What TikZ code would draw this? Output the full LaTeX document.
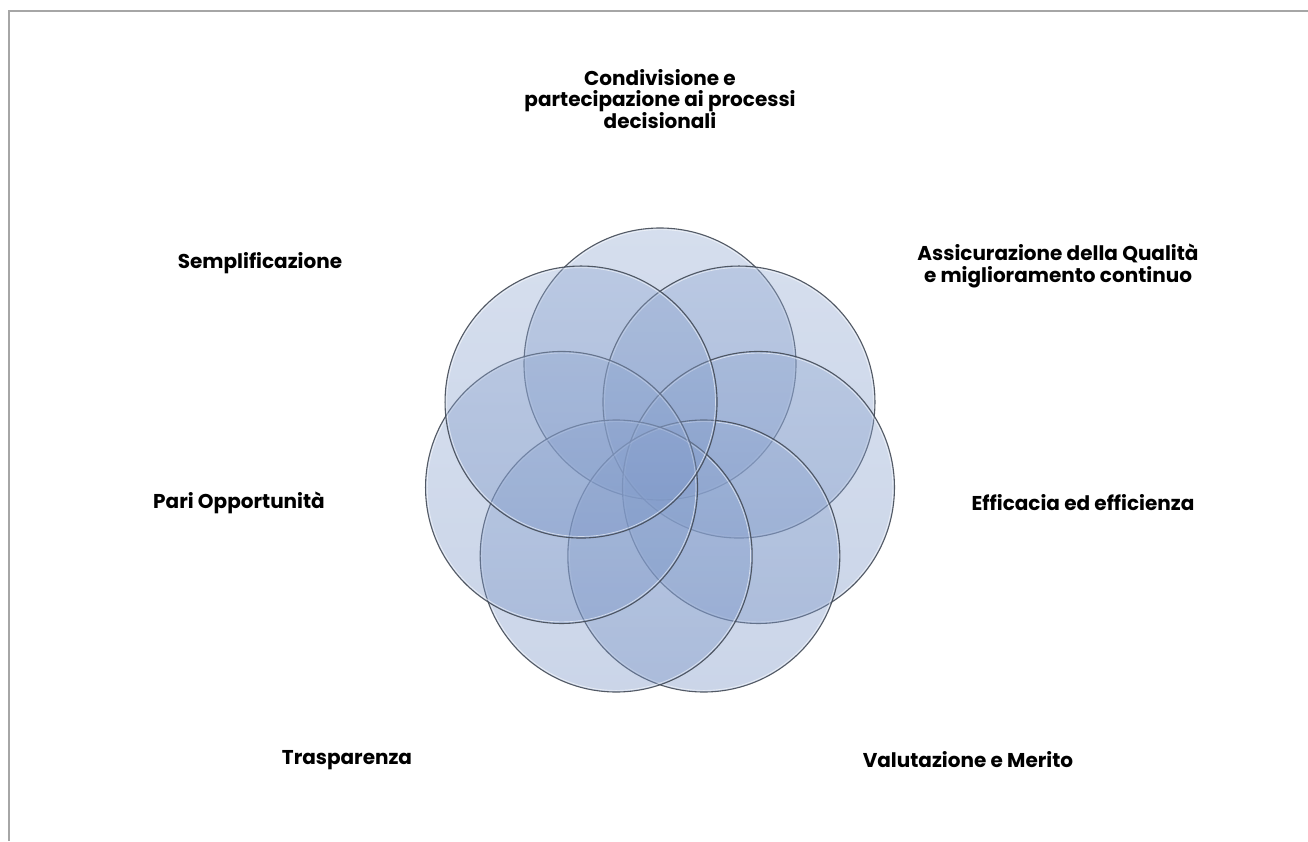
\documentclass[tikz,border=0pt]{standalone}
\usepackage{fontspec}
\setmainfont{Poppins}
\definecolor{ringc}{HTML}{434A55}
\definecolor{topc}{HTML}{93AAD2}
\definecolor{botc}{HTML}{7893C5}
\definecolor{framec}{HTML}{A6A6A6}
\begin{document}
\begin{tikzpicture}[x=1pt,y=-1pt,
  lbl/.style={font=\fontsize{20}{21.5}\selectfont\bfseries, align=center, text=black, inner sep=0pt},
  vcirc/.style={circle, minimum size=272pt, inner sep=0pt, draw=ringc, line width=1.1pt,
                top color=topc, bottom color=botc, fill opacity=0.39, draw opacity=0.9},
  glint/.style={white, draw opacity=0.6, line width=0.7pt},
  frame/.style={framec, line width=2pt}]
\useasboundingbox (0,0) rectangle (1308,841);
\coordinate (fa) at (9,841);
\coordinate (fb) at (9,11);
\coordinate (fc) at (1308,11);
\draw[frame] (fa) -- (fb) -- (fc);
\foreach \i in {0,...,6}{
  \pgfmathsetmacro{\ang}{\i*360/7}
  \pgfmathsetmacro{\cx}{660+101*sin(\ang)}
  \pgfmathsetmacro{\cy}{465-101*cos(\ang)}
  \node[vcirc] (c\i) at (\cx,\cy) {};
  \draw[glint] (c\i.center) circle (134.4pt);
}
\node[lbl] (t1) at (660,99) {Condivisione e\\partecipazione ai processi\\decisionali};
\node[lbl] (t2) at (260,263) {Semplificazione};
\node[lbl] (t3) at (1058,266) {Assicurazione della Qualità\\e miglioramento continuo};
\node[lbl] (t4) at (1083,503) {Efficacia ed efficienza};
\node[lbl] (t5) at (968,760) {Valutazione e Merito};
\node[lbl] (t6) at (347,760) {Trasparenza};
\node[lbl] (t7) at (239,503) {Pari Opportunità};
\end{tikzpicture}
\end{document}
